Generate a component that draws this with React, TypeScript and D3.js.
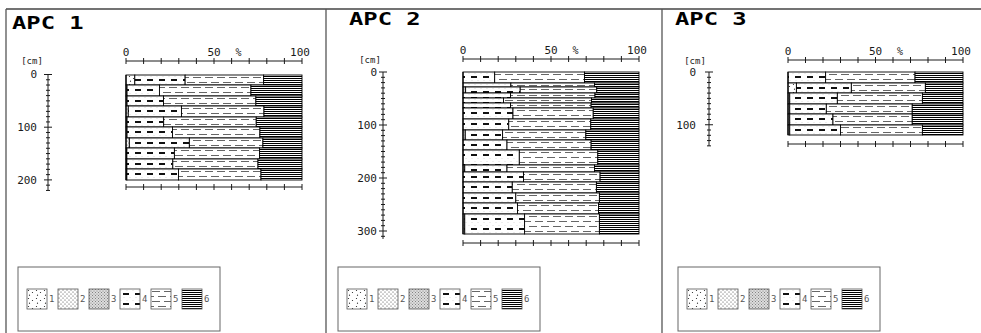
import React from 'react';
import * as d3 from 'd3';

// ---------- DATA ----------
const classLabels = ['1', '2', '3', '4', '5', '6'];
const percentTicks = [0, 10, 20, 30, 40, 50, 60, 70, 80, 90, 100];
const percentLabels = [0, 50, 100];

// APC 1 : sample depth boundaries (cm) and class percentages
const apc1Depth = [0, 20, 40, 60, 80, 100, 120, 140, 160, 180, 200];
const apc1C1 = [5, 0, 0, 0, 0, 0, 0, 0, 0, 0];
const apc1C2 = [0, 0, 0, 1.3, 0, 0, 1.9, 0, 0, 0];
const apc1C3 = [0, 0.6, 0.6, 0, 0.6, 0.6, 0, 0.5, 0.5, 0.5];
const apc1C4 = [28.6, 18.4, 20.7, 30.2, 20.8, 25.8, 34.1, 27, 26.1, 29.3];
const apc1C5 = [44.6, 52, 52.5, 46.9, 52.6, 49.7, 41.8, 48.4, 48.4, 46.9];
const apc1C6 = [21.8, 29, 26.2, 21.6, 26, 23.9, 22.2, 24.1, 25, 23.3];

// APC 2
const apc2Depth = [0, 20, 29, 39, 49, 58, 68, 89, 109, 128, 147, 175, 188, 207, 228, 248, 268, 306];
const apc2C1 = [0, 0, 0, 0, 0, 0, 0, 0, 0, 0, 0, 0, 0, 0, 0, 0, 0];
const apc2C2 = [0, 0, 0, 0, 0, 0, 0, 0, 0, 0, 0, 0, 0, 0, 0, 0, 0];
const apc2C3 = [0, 0, 1.5, 0, 0, 0, 0, 0, 1.3, 0, 0, 1, 0, 0, 0, 0, 1];
const apc2C4 = [18, 27.2, 31, 27, 23, 27, 28.4, 26, 21.2, 25, 32, 24, 34.4, 28, 30, 31, 34];
const apc2C5 = [51, 47.5, 43.5, 48, 50, 45.8, 45.6, 46.6, 47.3, 47.8, 44.6, 49.7, 43.5, 47.8, 47.5, 46, 42.5];
const apc2C6 = [31, 25.3, 24, 25, 27, 27.2, 26, 27.4, 30.2, 27.2, 23.4, 25.3, 22.1, 24.2, 22.5, 23, 22.5];

// APC 3
const apc3Depth = [0, 20, 40, 60, 80, 100, 120];
const apc3C1 = [0, 4.8, 0, 0, 0, 0];
const apc3C2 = [0, 0, 0, 0, 0, 0];
const apc3C3 = [0, 0, 1, 1, 1, 1];
const apc3C4 = [21.5, 31.4, 27.2, 20.9, 24.7, 29];
const apc3C5 = [51.1, 42.3, 48.6, 49.1, 45.3, 46.8];
const apc3C6 = [27.4, 21.5, 23.2, 29, 29, 23.2];

// ---------- LAYOUT ----------
const W = 981;
const H = 333;

const panels = [
  {
    title: 'APC 1', titleX: 12, titleY: 29, frameX: 6,
    xRange: [126, 302], axisX: 48, y0: 74.5, pxPerCm: 0.527,
    topAxisY: 61, bottomAxisY: 187, depthMax: 220, depthTicks: [0, 100, 200],
    labelGap: 11, cmX: 32, cmY: 64, legendX: 18,
    depth: apc1Depth, classes: [apc1C1, apc1C2, apc1C3, apc1C4, apc1C5, apc1C6],
  },
  {
    title: 'APC 2', titleX: 349, titleY: 25, frameX: 326,
    xRange: [463, 639], axisX: 383, y0: 72, pxPerCm: 0.53,
    topAxisY: 59, bottomAxisY: 243, depthMax: 315, depthTicks: [0, 100, 200, 300],
    labelGap: 6, cmX: 370, cmY: 63, legendX: 338,
    depth: apc2Depth, classes: [apc2C1, apc2C2, apc2C3, apc2C4, apc2C5, apc2C6],
  },
  {
    title: 'APC 3', titleX: 675, titleY: 25, frameX: 662,
    xRange: [788, 963], axisX: 709, y0: 72, pxPerCm: 0.5275,
    topAxisY: 60, bottomAxisY: 144, depthMax: 140, depthTicks: [0, 100],
    labelGap: 13, cmX: 695, cmY: 64, legendX: 678,
    depth: apc3Depth, classes: [apc3C1, apc3C2, apc3C3, apc3C4, apc3C5, apc3C6],
  },
];

const MONO = '"DejaVu Sans Mono", "Liberation Mono", monospace';
const INK = '#1a1a1a';

function Patterns() {
  return (
    <defs>
      <pattern id="pat-0" patternUnits="userSpaceOnUse" width={8} height={8}>
        <rect width={8} height={8} fill="#fff" />
        <circle cx={1.5} cy={1.5} r={0.6} fill="#222" />
        <circle cx={5.5} cy={3.5} r={0.6} fill="#222" />
        <circle cx={2.5} cy={6.2} r={0.6} fill="#222" />
      </pattern>
      <pattern id="pat-1" patternUnits="userSpaceOnUse" width={4} height={4}>
        <rect width={4} height={4} fill="#fff" />
        <circle cx={1} cy={1} r={0.55} fill="#333" />
        <circle cx={3} cy={3} r={0.55} fill="#333" />
      </pattern>
      <pattern id="pat-2" patternUnits="userSpaceOnUse" width={3} height={3}>
        <rect width={3} height={3} fill="#ddd" />
        <circle cx={0.5} cy={0.5} r={0.5} fill="#666" />
        <circle cx={2} cy={2} r={0.5} fill="#666" />
      </pattern>
      <pattern id="pat-3" patternUnits="userSpaceOnUse" width={12} height={10}>
        <rect width={12} height={10} fill="#fff" />
        <circle cx={1} cy={1.5} r={0.45} fill="#bbb" />
        <circle cx={7} cy={1.5} r={0.45} fill="#bbb" />
        <circle cx={4} cy={8.5} r={0.45} fill="#bbb" />
        <circle cx={10} cy={8.5} r={0.45} fill="#bbb" />
        <rect x={3} y={4} width={5.5} height={2} fill="#111" shapeRendering="crispEdges" />
      </pattern>
      <pattern id="pat-4" patternUnits="userSpaceOnUse" width={12} height={10}>
        <rect width={12} height={10} fill="#fff" />
        <rect x={0.5} y={2} width={8} height={1} fill="#666" shapeRendering="crispEdges" />
        <rect x={6.5} y={7} width={8} height={1} fill="#666" shapeRendering="crispEdges" />
        <rect x={-5.5} y={7} width={8} height={1} fill="#666" shapeRendering="crispEdges" />
      </pattern>
      <pattern id="pat-5" patternUnits="userSpaceOnUse" width={4} height={2}>
        <rect width={4} height={2} fill="#fff" />
        <rect y={1} width={4} height={1} fill="#000" shapeRendering="crispEdges" />
      </pattern>
    </defs>
  );
}

function Panel({ p }: { p: (typeof panels)[number] }) {
  const x = d3.scaleLinear().domain([0, 100]).range(p.xRange);
  const y = d3.scaleLinear().domain([0, 100]).range([p.y0, p.y0 + 100 * p.pxPerCm]);
  const minorDepth = d3.range(0, p.depthMax + 1, 10);
  const rows = p.depth.slice(0, -1).map((top, i) => {
    const bottom = p.depth[i + 1];
    let cum = 0;
    const segs = p.classes.map((arr, k) => {
      const v = arr[i];
      const s = { k, start: cum, end: cum + v };
      cum += v;
      return s;
    }).filter((s) => s.end - s.start > 0);
    return { top, bottom, segs };
  });

  const pctAxis = (ay: number, withLabels: boolean) => (
    <g>
      <line x1={x(0)} x2={x(100)} y1={ay} y2={ay} stroke={INK} strokeWidth={1} />
      {percentTicks.map((t) => (
        <line key={t} x1={x(t)} x2={x(t)} y1={ay - 3} y2={ay + 3} stroke={INK} strokeWidth={1} />
      ))}
      {withLabels && percentLabels.map((t) => (
        <text key={t} x={x(t) - (t === 100 ? 2 : 0)} y={ay - 5} fontFamily={MONO} fontSize={11}
          textAnchor="middle" fill={INK}>{t}</text>
      ))}
      {withLabels && (
        <text x={x(64)} y={ay - 5} fontFamily={MONO} fontSize={10} textAnchor="middle" fill={INK}>%</text>
      )}
    </g>
  );

  return (
    <g>
      {/* title */}
      <g transform={`translate(${p.titleX},${p.titleY}) scale(1.4,1)`}>
        <text fontFamily={MONO} fontWeight="bold" fontSize={17} fill="#000">{p.title}</text>
      </g>

      {/* depth axis */}
      <text x={p.cmX} y={p.cmY} fontFamily={MONO} fontSize={9} textAnchor="middle" fill={INK}>[cm]</text>
      <line x1={p.axisX} x2={p.axisX} y1={y(0)} y2={y(p.depthMax)} stroke={INK} strokeWidth={1} />
      {minorDepth.map((d) => {
        const major = p.depthTicks.includes(d);
        const len = major ? 4 : 2;
        return (
          <line key={d} x1={p.axisX - len} x2={p.axisX + len} y1={y(d)} y2={y(d)}
            stroke={INK} strokeWidth={1} />
        );
      })}
      {p.depthTicks.map((d) => (
        <text key={d} x={p.axisX - p.labelGap} y={y(d)} dy="0.35em" fontFamily={MONO} fontSize={11}
          textAnchor="end" fill={INK}>{d}</text>
      ))}

      {/* percent axes */}
      {pctAxis(p.topAxisY, true)}
      {pctAxis(p.bottomAxisY, false)}

      {/* bars */}
      {rows.map((r, i) => {
        const yt = Math.round(y(r.top));
        const h = Math.round(y(r.bottom)) - yt;
        return (
          <g key={i} transform={`translate(0,${yt})`}>
            {r.segs.map((s) => (
              <rect key={s.k} x={x(s.start)} y={0} width={x(s.end) - x(s.start)} height={h}
                fill={`url(#pat-${s.k})`} stroke="#000" strokeWidth={0.9} />
            ))}
          </g>
        );
      })}
      <line x1={x(0)} x2={x(0)} y1={Math.round(y(p.depth[0]))} y2={Math.round(y(p.depth[p.depth.length - 1]))}
        stroke="#000" strokeWidth={1.2} />

      {/* legend */}
      <rect x={p.legendX} y={267} width={202} height={64} fill="none" stroke="#666" strokeWidth={1} />
      {classLabels.map((lab, k) => {
        const sx = p.legendX + 9 + k * 31;
        return (
          <g key={lab}>
            <g transform={`translate(${sx},289)`}>
              <rect x={0} y={0} width={20} height={20} fill={`url(#pat-${k})`} stroke="#555" strokeWidth={0.8} />
            </g>
            <text x={sx + 22} y={302} fontFamily={MONO} fontSize={9} fill="#555">{lab}</text>
          </g>
        );
      })}
    </g>
  );
}

export default function App() {
  return (
    <svg width={W} height={H} viewBox={`0 0 ${W} ${H}`}
      style={{ position: 'absolute', left: 0, top: 0, background: '#fff' }}>
      <Patterns />
      <rect width={W} height={H} fill="#fff" />
      {/* frame */}
      <line x1={6} x2={W} y1={9} y2={9} stroke="#444" strokeWidth={1.5} />
      {panels.map((p) => (
        <line key={p.title} x1={p.frameX} x2={p.frameX} y1={9} y2={H} stroke="#555" strokeWidth={1.3} />
      ))}
      {panels.map((p) => (
        <Panel key={p.title} p={p} />
      ))}
    </svg>
  );
}
